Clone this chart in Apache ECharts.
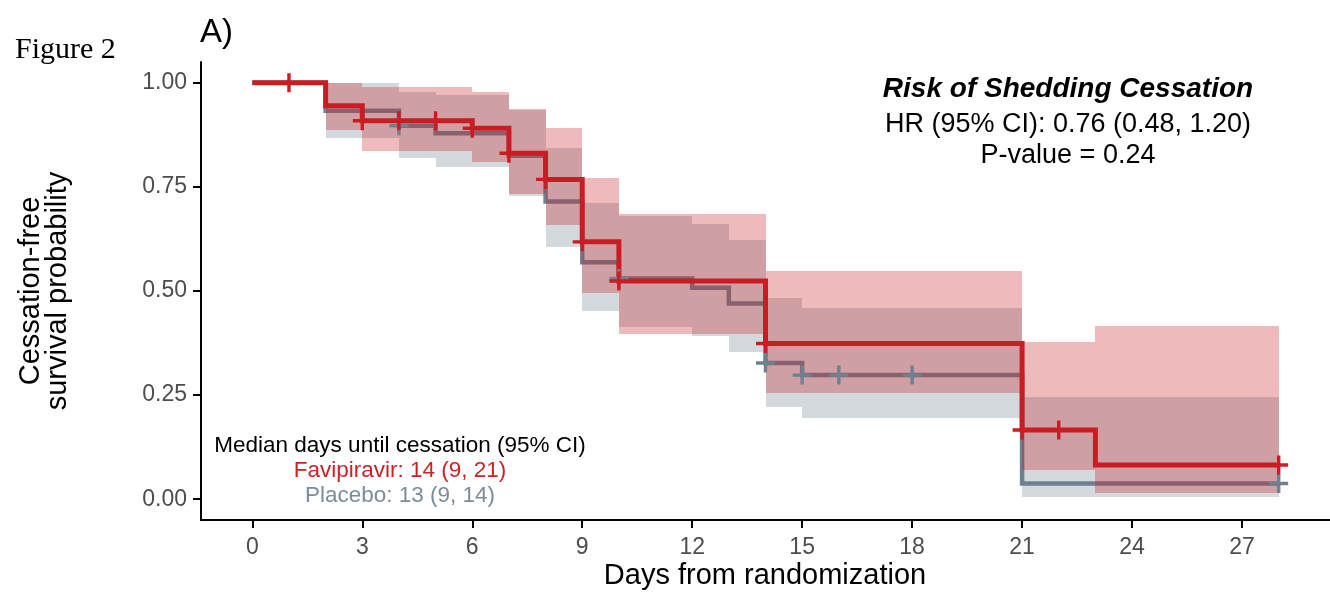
<!DOCTYPE html>
<html>
<head>
<meta charset="utf-8">
<title>Figure 2</title>
<script src="https://cdn.jsdelivr.net/npm/echarts@6/dist/echarts.min.js"></script>
<style>
  html, body { margin: 0; padding: 0; background: #fff; }
  #main { width: 1330px; height: 596px; }
</style>
</head>
<body>
<div id="main"></div>
<script>
// axis ticks
var xTicks = [0, 3, 6, 9, 12, 15, 18, 21, 24, 27];
var yTicks = [0, 0.25, 0.5, 0.75, 1];

// Favipiravir: step curve, censor marks, 95% CI band
var favTime = [0, 2, 3, 6, 7, 8, 9, 10, 14, 21, 23, 28];
var favSurv = [1, 0.945, 0.909, 0.891, 0.831, 0.768, 0.618, 0.524, 0.374, 0.166, 0.082, 0.082];
var favCensorTime = [1, 3, 4, 5, 6, 7, 8, 9, 10, 14, 21, 22, 28];
var favCensorSurv = [1, 0.909, 0.909, 0.909, 0.891, 0.831, 0.768, 0.618, 0.524, 0.374, 0.166, 0.166, 0.082];
var favBandTime = [2, 3, 6, 7, 8, 9, 10, 14, 21, 23, 28];
var favLower = [0.887, 0.837, 0.809, 0.733, 0.659, 0.494, 0.397, 0.254, 0.071, 0.014];
var favUpper = [1.0, 0.99, 0.977, 0.937, 0.891, 0.771, 0.686, 0.548, 0.378, 0.416];

// Placebo
var plaTime = [0, 2, 4, 5, 7, 8, 9, 10, 12, 13, 14, 15, 21, 28];
var plaSurv = [1, 0.933, 0.897, 0.879, 0.825, 0.715, 0.569, 0.530, 0.508, 0.470, 0.327, 0.298, 0.0375, 0.0375];
var plaCensorTime = [4, 10, 14, 15, 16, 18, 28];
var plaCensorSurv = [0.897, 0.530, 0.327, 0.298, 0.298, 0.298, 0.0375];
var plaBandTime = [2, 4, 5, 7, 8, 9, 10, 12, 13, 14, 15, 21, 28];
var plaLower = [0.867, 0.819, 0.797, 0.728, 0.605, 0.453, 0.414, 0.392, 0.354, 0.221, 0.194, 0.005];
var plaUpper = [1.0, 0.979, 0.97, 0.935, 0.843, 0.712, 0.679, 0.661, 0.623, 0.482, 0.458, 0.245];

var RED = '#c91d23';
var GREY = '#6f8091';
var FONT = 'Liberation Sans, Arial, sans-serif';
var PLUS = 'path://M4.1,0H5.9V4.1H10V5.9H5.9V10H4.1V5.9H0V4.1H4.1Z';

function pairs(xs, ys) {
  return xs.map(function (x, i) { return [x, ys[i]]; });
}

// one item per interval: [start, end, lower, upper]
function bandItems(t, lo, hi) {
  var out = [];
  for (var i = 0; i < lo.length; i++) {
    out.push([t[i], t[i + 1], lo[i], hi[i]]);
  }
  return out;
}

function bandSeries(name, items, fill, z) {
  return {
    type: 'custom',
    name: name,
    z: z,
    silent: true,
    encode: { x: [0, 1], y: [2, 3] },
    data: items,
    renderItem: function (params, api) {
      var a = api.coord([api.value(0), api.value(3)]);
      var b = api.coord([api.value(1), api.value(2)]);
      // round so neighbouring rects share an edge (no seams)
      var x0 = Math.round(a[0]), x1 = Math.round(b[0]);
      var y0 = Math.round(a[1]), y1 = Math.round(b[1]);
      return {
        type: 'rect',
        shape: { x: x0, y: y0, width: x1 - x0, height: y1 - y0 },
        style: { fill: fill }
      };
    }
  };
}

function stepSeries(name, data, color, width, z) {
  return {
    type: 'line',
    name: name,
    step: 'end',
    z: z,
    data: data,
    showSymbol: false,
    lineStyle: { color: color, width: width, cap: 'butt', join: 'miter' }
  };
}

function censorSeries(name, data, color, z) {
  return {
    type: 'scatter',
    name: name,
    z: z,
    data: data,
    symbol: PLUS,
    symbolSize: 19,
    itemStyle: { color: color, opacity: 1 }
  };
}

var chart = echarts.init(document.getElementById('main'), null, { renderer: 'canvas' });

chart.setOption({
  animation: false,
  backgroundColor: '#fff',
  grid: { left: 201, right: 0, top: 62, bottom: 76 },
  xAxis: {
    type: 'value',
    min: -1.4,
    max: 29.4,
    splitLine: { show: false },
    axisLine: { onZero: false, lineStyle: { color: '#000', width: 2 } },
    axisTick: { customValues: xTicks, length: 8, lineStyle: { color: '#000', width: 2 } },
    axisLabel: {
      customValues: xTicks,
      margin: 16,
      color: '#4d4d4d',
      fontSize: 23,
      fontFamily: FONT
    }
  },
  yAxis: {
    type: 'value',
    min: -0.05,
    max: 1.05,
    splitLine: { show: false },
    axisLine: { show: true, onZero: false, lineStyle: { color: '#000', width: 2 } },
    axisTick: { show: true, customValues: yTicks, length: 8, lineStyle: { color: '#000', width: 2 } },
    axisLabel: {
      customValues: yTicks,
      margin: 14,
      color: '#4d4d4d',
      fontSize: 23,
      fontFamily: FONT,
      formatter: function (v) { return v.toFixed(2); }
    }
  },
  series: [
    bandSeries('Placebo CI', bandItems(plaBandTime, plaLower, plaUpper), 'rgba(112,128,144,0.3)', 1),
    stepSeries('Placebo', pairs(plaTime, plaSurv), GREY, 4.5, 2),
    bandSeries('Favipiravir CI', bandItems(favBandTime, favLower, favUpper), 'rgba(200,25,30,0.3)', 3),
    stepSeries('Favipiravir', pairs(favTime, favSurv), RED, 5, 4),
    censorSeries('Placebo censored', pairs(plaCensorTime, plaCensorSurv), GREY, 5),
    censorSeries('Favipiravir censored', pairs(favCensorTime, favCensorSurv), RED, 6)
  ],
  graphic: [
    { type: 'text', x: 15, y: 50, style: { text: 'Figure 2', font: '30px "Liberation Serif", serif', fill: '#000', verticalAlign: 'middle' } },
    { type: 'text', x: 200, y: 33, style: { text: 'A)', font: '33px ' + FONT, fill: '#000', verticalAlign: 'middle' } },
    {
      type: 'text', x: 44, y: 291, rotation: Math.PI / 2,
      style: { text: 'Cessation-free\nsurvival probability', font: '29px ' + FONT, lineHeight: 27, fill: '#000', align: 'center', verticalAlign: 'middle' }
    },
    { type: 'text', x: 765, y: 576, style: { text: 'Days from randomization', font: '29px ' + FONT, fill: '#000', align: 'center', verticalAlign: 'middle' } },
    { type: 'text', x: 1068, y: 89, style: { text: 'Risk of Shedding Cessation', font: 'italic bold 28px ' + FONT, fill: '#000', align: 'center', verticalAlign: 'middle' } },
    { type: 'text', x: 1068, y: 125, style: { text: 'HR (95% CI): 0.76 (0.48, 1.20)', font: '27px ' + FONT, fill: '#000', align: 'center', verticalAlign: 'middle' } },
    { type: 'text', x: 1068, y: 156, style: { text: 'P-value = 0.24', font: '27px ' + FONT, fill: '#000', align: 'center', verticalAlign: 'middle' } },
    { type: 'text', x: 400, y: 446, style: { text: 'Median days until cessation (95% CI)', font: '22.5px ' + FONT, fill: '#000', align: 'center', verticalAlign: 'middle' } },
    { type: 'text', x: 400, y: 471, style: { text: 'Favipiravir: 14 (9, 21)', font: '22.5px ' + FONT, fill: '#cc2226', align: 'center', verticalAlign: 'middle' } },
    { type: 'text', x: 400, y: 496, style: { text: 'Placebo: 13 (9, 14)', font: '22.5px ' + FONT, fill: '#7b8c9c', align: 'center', verticalAlign: 'middle' } }
  ]
});
</script>
</body>
</html>
